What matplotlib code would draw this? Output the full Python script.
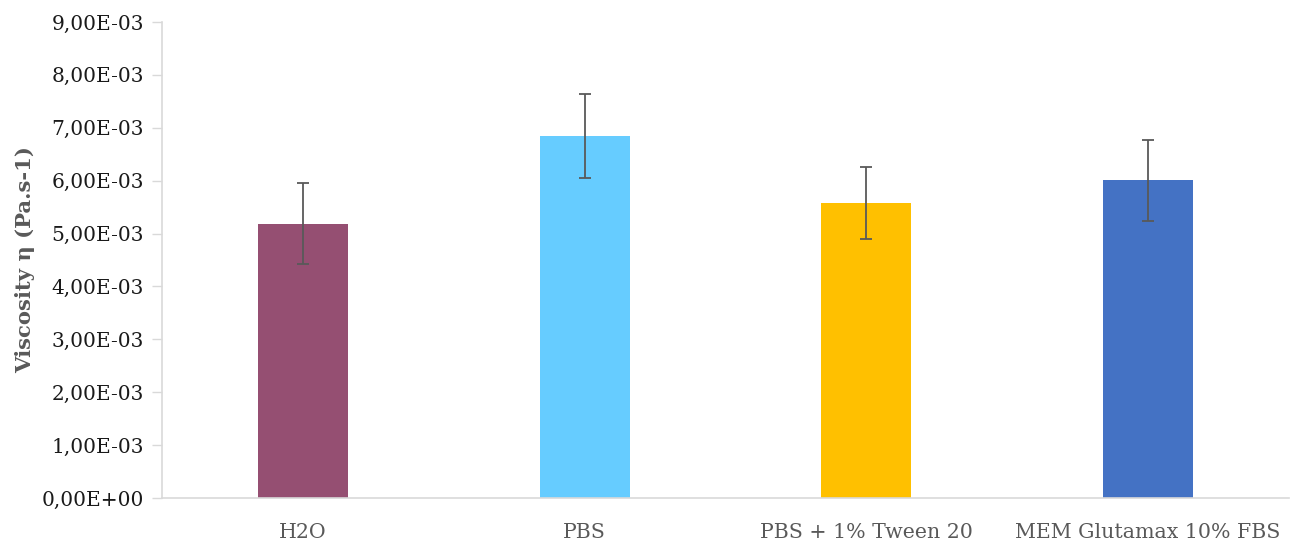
import matplotlib
matplotlib.use("Agg")
import matplotlib.pyplot as plt
from matplotlib.ticker import FuncFormatter, MultipleLocator

categories = ["H2O", "PBS", "PBS + 1% Tween 20", "MEM Glutamax 10% FBS"]
viscosity = [5.185e-3, 6.84e-3, 5.575e-3, 6.005e-3]
errors = [0.765e-3, 0.79e-3, 0.675e-3, 0.765e-3]
colors = ["#954F72", "#66CCFF", "#FFC000", "#4472C4"]

plt.rcParams['font.family'] = ['DejaVu Serif']

fig = plt.figure(figsize=(12.95, 5.46), dpi=100)
ax = fig.add_axes([162/1295, 1-498/546, (1289-162)/1295, (498-22)/546])

x = list(range(len(categories)))
ax.bar(x, viscosity, width=0.32, color=colors, zorder=2)
ax.errorbar(x, viscosity, yerr=errors, fmt='none', ecolor='#595959',
            elinewidth=1.3, capsize=4.3, capthick=1.3, zorder=3)

ax.set_xlim(-0.5, len(categories) - 0.5)
ax.set_ylim(0, 9e-3)
ax.yaxis.set_major_locator(MultipleLocator(1e-3))

def fmt(v, pos):
    if abs(v) < 1e-12:
        return "0,00E+00"
    s = f"{v:.2E}"
    return s.replace(".", ",")
ax.yaxis.set_major_formatter(FuncFormatter(fmt))

ax.set_xticks(x)
ax.set_xticklabels(categories)

for side in ['top', 'right']:
    ax.spines[side].set_visible(False)
for side in ['left', 'bottom']:
    ax.spines[side].set_color('#D9D9D9')
    ax.spines[side].set_linewidth(1.2)

ax.tick_params(axis='y', length=7, width=1.0, color='#D9D9D9', labelsize=14.5,
               labelcolor='#1a1a1a', pad=6)
ax.tick_params(axis='x', length=0, labelsize=14.8, labelcolor='#595959', pad=18)

ax.set_ylabel("Viscosity η (Pa.s-1)", fontsize=15.2, fontweight='bold',
              color='#595959')
ax.yaxis.set_label_coords(-0.1125, 0.5)

fig.savefig("out.png", dpi=100)
